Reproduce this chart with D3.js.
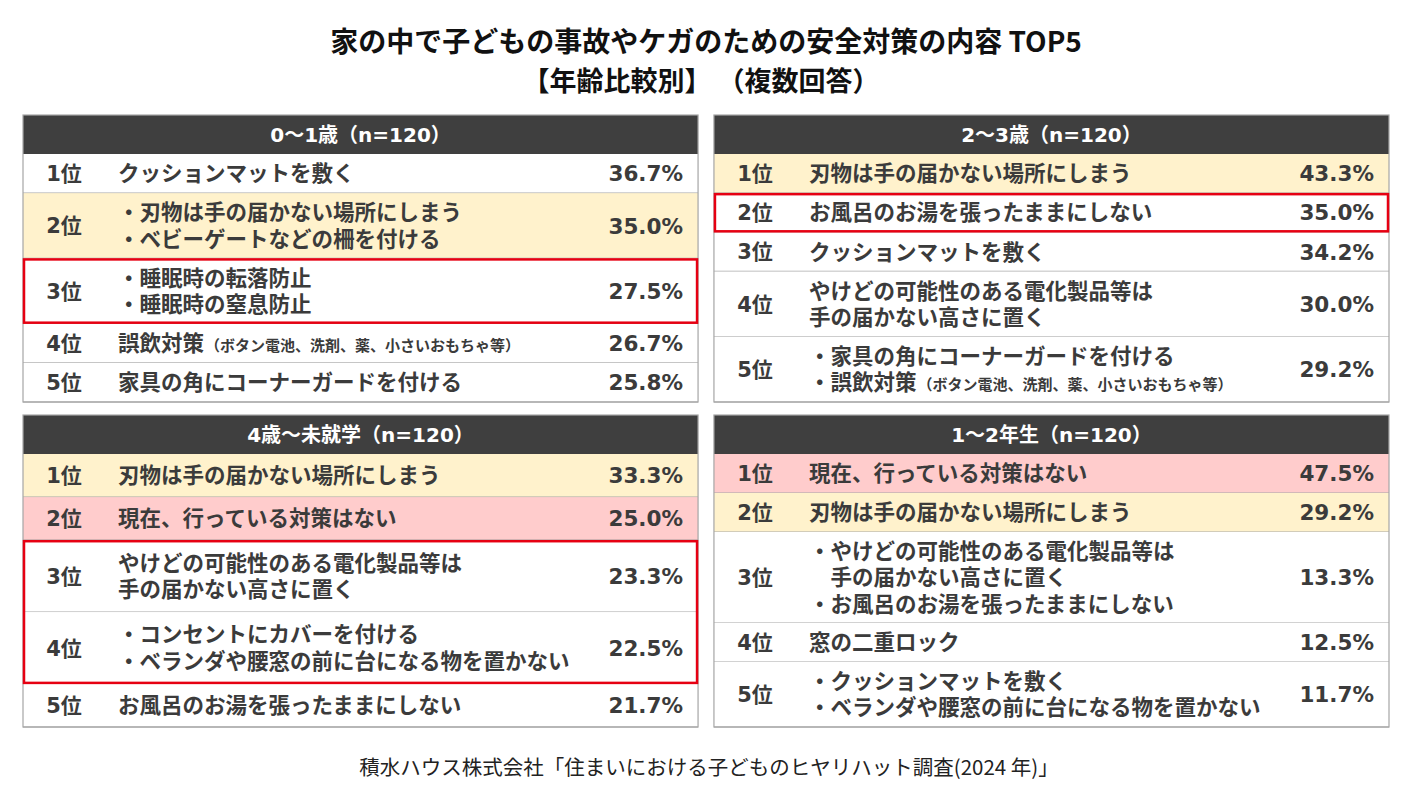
<!DOCTYPE html>
<html>
<head>
<meta charset="utf-8">
<script src="https://cdn.jsdelivr.net/npm/d3@7"></script>
<style>
  body { margin: 0; background: #fff; }
  svg { display: block; }
</style>
</head>
<body>
<div id="chart"></div>
<script>
// data
var panelTitles = ["0～1歳（n=120）", "2～3歳（n=120）", "4歳～未就学（n=120）", "1～2年生（n=120）"];
var ranks = ["1位", "2位", "3位", "4位", "5位"];

// "|" splits the small note from the main text
var items0 = [
    ["クッションマットを敷く"],
    ["・刃物は手の届かない場所にしまう", "・ベビーゲートなどの柵を付ける"],
    ["・睡眠時の転落防止", "・睡眠時の窒息防止"],
    ["誤飲対策|（ボタン電池、洗剤、薬、小さいおもちゃ等）"],
    ["家具の角にコーナーガードを付ける"]
];
var values0 = [36.7, 35.0, 27.5, 26.7, 25.8];
var fills0 = ["", "top", "", "", ""];
var boxes0 = [[2, 2]];

var items1 = [
    ["刃物は手の届かない場所にしまう"],
    ["お風呂のお湯を張ったままにしない"],
    ["クッションマットを敷く"],
    ["やけどの可能性のある電化製品等は", "手の届かない高さに置く"],
    ["・家具の角にコーナーガードを付ける", "・誤飲対策|（ボタン電池、洗剤、薬、小さいおもちゃ等）"]
];
var values1 = [43.3, 35.0, 34.2, 30.0, 29.2];
var fills1 = ["top", "", "", "", ""];
var boxes1 = [[1, 1]];

var items2 = [
    ["刃物は手の届かない場所にしまう"],
    ["現在、行っている対策はない"],
    ["やけどの可能性のある電化製品等は", "手の届かない高さに置く"],
    ["・コンセントにカバーを付ける", "・ベランダや腰窓の前に台になる物を置かない"],
    ["お風呂のお湯を張ったままにしない"]
];
var values2 = [33.3, 25.0, 23.3, 22.5, 21.7];
var fills2 = ["top", "none", "", "", ""];
var boxes2 = [[2, 3]];

var items3 = [
    ["現在、行っている対策はない"],
    ["刃物は手の届かない場所にしまう"],
    ["・やけどの可能性のある電化製品等は", "　手の届かない高さに置く", "・お風呂のお湯を張ったままにしない"],
    ["窓の二重ロック"],
    ["・クッションマットを敷く", "・ベランダや腰窓の前に台になる物を置かない"]
];
var values3 = [47.5, 29.2, 13.3, 12.5, 11.7];
var fills3 = ["none", "top", "", "", ""];
var boxes3 = [];

var allItems = [items0, items1, items2, items3];
var allValues = [values0, values1, values2, values3];
var allFills = [fills0, fills1, fills2, fills3];
var allBoxes = [boxes0, boxes1, boxes2, boxes3];

function init() {
    var w = 1419;
    var h = 796;
    var jp = "'Noto Sans CJK JP', sans-serif";
    var num = "'DejaVu Sans', 'Noto Sans CJK JP', sans-serif";
    var textColor = "#3b3b3b";
    var fillColor = { "top": "#fff2cc", "none": "#ffcccc", "": "#ffffff" };
    var fmt = d3.format(".1f");

    var svg = d3.select("#chart")
        .append("svg")
        .attr("width", w)
        .attr("height", h);

    svg.append("rect").attr("width", w).attr("height", h).attr("fill", "#fff");

    // title
    svg.append("text")
        .attr("x", 706).attr("y", 52)
        .attr("text-anchor", "middle")
        .attr("font-family", jp).attr("font-weight", 700).attr("font-size", 28)
        .attr("fill", "#111")
        .text("家の中で子どもの事故やケガのための安全対策の内容 TOP5");
    svg.append("text")
        .attr("x", 701).attr("y", 91)
        .attr("text-anchor", "middle")
        .attr("font-family", jp).attr("font-weight", 700).attr("font-size", 27)
        .attr("fill", "#111")
        .text("【年齢比較別】 （複数回答）");

    var xBand = d3.scaleBand()
        .domain([0, 1])
        .range([23, 1389])
        .paddingInner(0.023);

    // panel tops and bottoms
    var rowTop = [115, 415];
    var rowBottom = [402, 727];
    var headH = 39;

    panelTitles.forEach(function (title, p) {
        var col = p % 2;
        var row = Math.floor(p / 2);
        var x0 = xBand(col);
        var pw = xBand.bandwidth();
        var top = rowTop[row];
        var items = allItems[p];
        var vals = allValues[p];
        var fills = allFills[p];

        // row heights from the number of text lines
        var weights = items.map(function (d) { return 0.5 + d.length; });
        var cum = [0];
        weights.forEach(function (d, i) { cum.push(cum[i] + d); });
        var yScale = d3.scaleLinear()
            .domain([0, cum[cum.length - 1]])
            .range([top + headH, rowBottom[row]]);

        var g = svg.append("g");

        g.append("rect")
            .attr("x", x0).attr("y", top)
            .attr("width", pw).attr("height", headH)
            .attr("fill", "#3f3f3f");
        g.append("text")
            .attr("x", x0 + pw / 2).attr("y", top + headH / 2)
            .attr("dy", "0.36em")
            .attr("text-anchor", "middle")
            .attr("font-family", num).attr("font-weight", 700).attr("font-size", 20)
            .attr("fill", "#fff")
            .text(title);

        var rows = g.selectAll(".row")
            .data(items)
            .enter()
            .append("g")
            .attr("class", "row");

        rows.append("rect")
            .attr("x", x0)
            .attr("y", function (d, i) { return yScale(cum[i]); })
            .attr("width", pw)
            .attr("height", function (d, i) { return yScale(cum[i + 1]) - yScale(cum[i]); })
            .attr("fill", function (d, i) { return fillColor[fills[i]]; });

        rows.append("line")
            .attr("x1", x0).attr("x2", x0 + pw)
            .attr("y1", function (d, i) { return yScale(cum[i + 1]); })
            .attr("y2", function (d, i) { return yScale(cum[i + 1]); })
            .attr("stroke", "#a6a6a6")
            .attr("stroke-width", 1.2);

        rows.append("text")
            .attr("x", x0 + 41)
            .attr("y", function (d, i) { return (yScale(cum[i]) + yScale(cum[i + 1])) / 2; })
            .attr("dy", "0.36em")
            .attr("text-anchor", "middle")
            .attr("font-family", num).attr("font-weight", 700).attr("font-size", 21)
            .attr("fill", textColor)
            .text(function (d, i) { return ranks[i]; });

        rows.append("text")
            .attr("x", x0 + pw - 15)
            .attr("y", function (d, i) { return (yScale(cum[i]) + yScale(cum[i + 1])) / 2; })
            .attr("dy", "0.36em")
            .attr("text-anchor", "end")
            .attr("font-family", num).attr("font-weight", 700).attr("font-size", 21.5)
            .attr("fill", textColor)
            .text(function (d, i) { return fmt(vals[i]) + "%"; });

        // one text per line
        rows.each(function (lines, i) {
            var cy = (yScale(cum[i]) + yScale(cum[i + 1])) / 2;
            var lh = 26.5;
            var r = d3.select(this);
            lines.forEach(function (line, k) {
                var parts = line.split("|");
                var t = r.append("text")
                    .attr("x", x0 + 95)
                    .attr("y", cy + (k - (lines.length - 1) / 2) * lh)
                    .attr("dy", "0.36em")
                    .attr("font-family", jp).attr("font-weight", 700).attr("font-size", 21.5)
                    .attr("fill", textColor);
                t.append("tspan").text(parts[0]);
                if (parts[1]) {
                    t.append("tspan")
                        .attr("font-size", 15)
                        .attr("dx", 1)
                        .text(parts[1]);
                }
            });
        });

        // outer border
        g.append("rect")
            .attr("x", x0).attr("y", top)
            .attr("width", pw).attr("height", rowBottom[row] - top)
            .attr("fill", "none")
            .attr("stroke", "#a6a6a6")
            .attr("stroke-width", 1.2);

        // red boxes
        g.selectAll(".box")
            .data(allBoxes[p])
            .enter()
            .append("rect")
            .attr("class", "box")
            .attr("x", x0 + 1)
            .attr("y", function (d) { return yScale(cum[d[0]]) + 1; })
            .attr("width", pw - 2)
            .attr("height", function (d) { return yScale(cum[d[1] + 1]) - yScale(cum[d[0]]) - 2; })
            .attr("fill", "none")
            .attr("stroke", "#e60012")
            .attr("stroke-width", 2.5);
    });

    // source
    svg.append("text")
        .attr("x", 709).attr("y", 768)
        .attr("dy", "0.36em")
        .attr("text-anchor", "middle")
        .attr("font-family", jp).attr("font-size", 20.5)
        .attr("fill", "#222")
        .text("積水ハウス株式会社「住まいにおける子どものヒヤリハット調査(2024 年)」");
}

window.onload = init;
</script>
</body>
</html>
